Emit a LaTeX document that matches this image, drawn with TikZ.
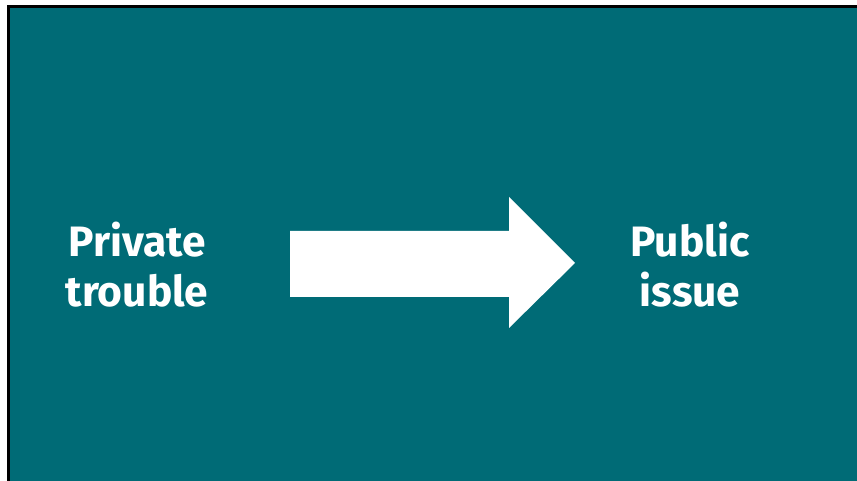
\documentclass[tikz,border=0pt]{standalone}
\usepackage{fontspec}
\setmainfont{Fira Sans}
\definecolor{teal1}{HTML}{006B76}
\tikzset{
  lbl/.style={text=white, font=\fontsize{42.5}{50}\selectfont\bfseries, align=center, inner sep=0pt},
}
\begin{document}
\begin{tikzpicture}[x=1pt,y=1pt]
\useasboundingbox (0,0) rectangle (857,481);
\fill[white] (0,0) rectangle (857,481);
\fill[black] (7,0) rectangle (857,476);
\fill[teal1] (10,0) rectangle (857,473);
\fill[white] (290,{481-231}) -- (509,{481-231}) -- (509,{481-197}) -- (575,{481-263}) -- (509,{481-328}) -- (509,{481-297}) -- (290,{481-297}) -- cycle;
\node[lbl] (priv) at (137,{481-265}) {Private\\trouble};
\node[lbl] (pub) at (690,{481-265}) {Public\\issue};
\end{tikzpicture}
\end{document}
